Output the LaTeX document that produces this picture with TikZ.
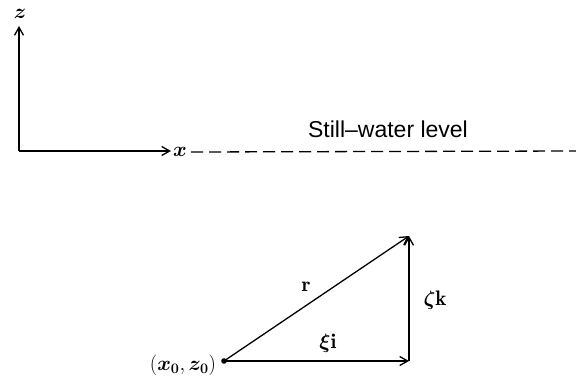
\documentclass[tikz,border=0pt]{standalone}
\usepackage{amsmath,bm}
\usepackage{fontspec}
\newfontfamily\labelsans{Liberation Sans}
\usetikzlibrary{arrows.meta}
\begin{document}
\begin{tikzpicture}[x=1pt,y=1pt,
  vec/.style={line width=1.3pt,-{Straight Barb[length=8pt,width=9pt,line width=1.3pt]}},
  lab/.style={inner sep=1pt,font=\fontsize{21}{25}\selectfont}]
\useasboundingbox (0,0) rectangle (576,376);
% axes
\coordinate (O) at (19,225);
\coordinate (Zt) at (19,350);
\coordinate (Xe) at (171,225);
\draw[vec] (O) -- (Zt);
\draw[vec] (O) -- (Xe);
\node[lab] (zl) at (20,362) {$\bm{z}$};
\node[lab] (xl) at (180,224) {$\bm{x}$};
\coordinate (De) at (576,225);
\draw[line width=1.3pt,dash pattern=on 12pt off 6pt] (xl.east) ++(3,0) coordinate (Ds) -- (De);
\node[inner sep=0pt,font=\labelsans\fontsize{23}{27}\selectfont] (sw) at (388,247) {Still–water level};
% triangle
\coordinate (P) at (224,15);
\coordinate (Q) at (409,15);
\coordinate (R) at (409,140);
\fill (P) circle (2.8pt);
\draw[vec] (P) -- (Q);
\draw[vec] (Q) -- (R);
\draw[vec] (P) -- (R);
\node[lab] (rl) at (306,89) {$\mathbf{r}$};
\node[lab] (xil) at (328,33) {$\bm{\xi}\mathbf{i}$};
\node[lab] (zkl) at (435,76) {$\bm{\zeta}\mathbf{k}$};
\node[lab] (pl) at (183,11) {$(\bm{x_0}, \bm{z_0})$};
\end{tikzpicture}
\end{document}
